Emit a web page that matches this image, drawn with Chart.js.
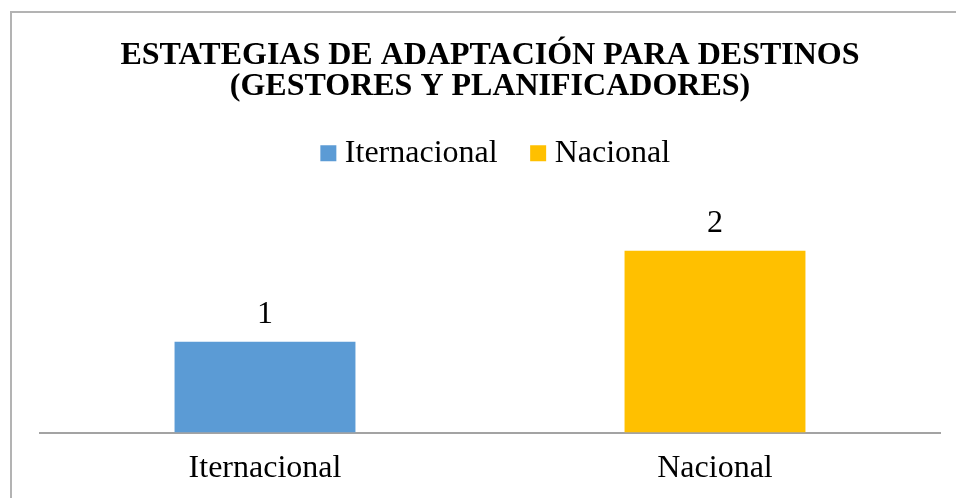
<!DOCTYPE html>
<html><head><meta charset="utf-8">
<script src="https://cdn.jsdelivr.net/npm/chart.js@4/dist/chart.umd.min.js"></script>
<style>
html,body{margin:0;padding:0;background:#fff;overflow:hidden;}
#wrap{position:relative;width:956px;height:498px;}
#frame{position:absolute;left:10px;top:11px;width:960px;height:500px;border-left:2px solid #b3b3b3;border-top:2px solid #b3b3b3;pointer-events:none;}
canvas{display:block;}
</style></head><body>
<div id="wrap"><canvas id="c" width="956" height="498" style="width:956px;height:498px"></canvas><div id="frame"></div></div>
<script>
const titleLines = ['ESTATEGIAS DE ADAPTACIÓN PARA DESTINOS', '(GESTORES Y PLANIFICADORES)'];
const categories = ['Iternacional', 'Nacional'];
const values = [1, 2];
const barColors = ['#5B9BD5', '#FFC000'];
const yMax = 2.5;

const FONT = "'Liberation Serif', 'Times New Roman', serif";

const legendTweak = {
  id: 'legendTweak',
  beforeInit(chart) {
    const lg = chart.legend;
    if (!lg) return;
    const orig = lg.fit;
    lg.fit = function () { orig.call(this); this.height += 26; };
  },
  afterLayout(chart) {
    const lg = chart.legend;
    if (!lg) return;
    lg.left += 9;
    lg.right += 9;
  }
};

const valueLabels = {
  id: 'valueLabels',
  afterDatasetsDraw(chart) {
    const ctx = chart.ctx;
    ctx.save();
    ctx.font = '32px ' + FONT;
    ctx.fillStyle = '#000';
    ctx.textAlign = 'center';
    ctx.textBaseline = 'middle';
    chart.data.datasets.forEach((ds, di) => {
      chart.getDatasetMeta(di).data.forEach((bar, i) => {
        ctx.fillText(String(ds.data[i]), bar.x, bar.y - 27);
      });
    });
    ctx.restore();
  }
};

new Chart(document.getElementById('c'), {
  type: 'bar',
  data: {
    labels: categories,
    datasets: [{
      data: values,
      backgroundColor: barColors,
      borderWidth: 0,
      barPercentage: 0.402,
      categoryPercentage: 1
    }]
  },
  options: {
    responsive: false,
    animation: false,
    devicePixelRatio: 1,
    layout: { padding: { left: 40, right: 16, top: 0, bottom: -7 } },
    plugins: {
      tooltip: { enabled: false },
      title: {
        display: true,
        text: titleLines,
        color: '#000',
        font: { family: FONT, size: 32, weight: 'bold', lineHeight: 0.95 },
        padding: { top: 41, bottom: -4.6 }
      },
      legend: {
        display: true,
        position: 'top',
        labels: {
          color: '#000',
          font: { family: FONT, size: 32 },
          usePointStyle: true,
          boxWidth: 1,
          boxHeight: 16,
          padding: 40,
          generateLabels(chart) {
            return categories.map((c, i) => ({
              text: c,
              fillStyle: barColors[i],
              strokeStyle: barColors[i],
              lineWidth: 0,
              pointStyle: 'rect',
              hidden: false,
              index: i
            }));
          }
        },
        onClick() {}
      }
    },
    scales: {
      x: {
        grid: { display: false, drawTicks: false },
        border: { display: true, color: '#a3a3a3', width: 2 },
        ticks: { color: '#000', font: { family: FONT, size: 32 }, padding: 17 }
      },
      y: {
        display: false,
        min: 0,
        max: yMax
      }
    }
  },
  plugins: [valueLabels, legendTweak]
});
</script>
</body></html>
